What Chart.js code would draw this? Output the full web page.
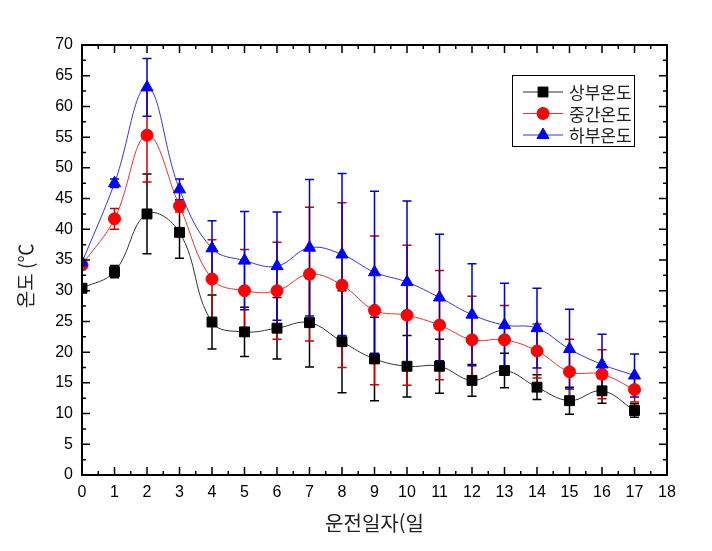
<!DOCTYPE html>
<html lang="ko">
<head>
<meta charset="utf-8">
<title>운전일자별 온도</title>
<script src="https://cdn.jsdelivr.net/npm/chart.js@4.4.1/dist/chart.umd.min.js"></script>
<style>
  html, body { margin: 0; padding: 0; background: #fff; }
  #wrap { width: 712px; height: 551px; }
</style>
</head>
<body>
<div id="wrap"><canvas id="tempChart" width="712" height="551"></canvas></div>
<script>
// 운전일자별 온도 — 평균 ± 오차

// ─── 데이터 ────────────────────────────────────────────────────────────────
const days = [0, 1, 2, 3, 4, 5, 6, 7, 8, 9, 10, 11, 12, 13, 14, 15, 16, 17];
const seriesNames = ['상부온도', '중간온도', '하부온도'];

const upperTemp  = [30.4, 33.1, 42.5, 39.5, 24.9, 23.3, 23.9, 24.8, 21.7, 18.9, 17.7, 17.7, 15.4, 17.0, 14.3, 12.1, 13.7, 10.5];
const upperErr   = [0.5, 1.0, 6.5, 4.2, 4.4, 4.0, 5.0, 7.2, 8.3, 6.8, 5.0, 4.4, 2.6, 2.8, 2.0, 2.2, 2.0, 1.1];
const middleTemp = [34.2, 41.7, 55.3, 43.8, 31.9, 30.0, 30.0, 32.7, 30.9, 26.8, 26.0, 24.4, 22.0, 22.0, 20.2, 16.8, 16.4, 13.9];
const middleErr  = [0.5, 1.7, 7.6, 1.0, 6.4, 6.7, 7.9, 10.9, 13.4, 12.1, 11.4, 8.9, 7.1, 5.6, 4.4, 5.3, 4.0, 2.0];
const lowerTemp  = [34.6, 47.5, 63.1, 46.5, 36.9, 34.9, 34.0, 37.0, 35.9, 33.0, 31.4, 28.9, 26.1, 24.4, 23.9, 20.5, 18.0, 16.2];
const lowerErr   = [0.5, 0.7, 4.7, 1.7, 4.5, 8.0, 8.8, 11.1, 13.2, 13.2, 13.2, 10.3, 8.3, 6.8, 6.5, 6.5, 4.9, 3.5];

const xMax = 18, xStep = 1;
const yMax = 70, yStep = 5;
const xTitle = '운전일자(일';
const yTitle = '온도 (℃';

// ─── 스타일 ────────────────────────────────────────────────────────────────
const series = [
  { label: seriesNames[0], values: upperTemp,  errors: upperErr,  fill: '#000000', line: '#333333', bar: '#000000', style: 'rect',     radius: 7 },
  { label: seriesNames[1], values: middleTemp, errors: middleErr, fill: '#ff0000', line: '#ee3333', bar: '#cc0000', style: 'circle',   radius: 6 },
  { label: seriesNames[2], values: lowerTemp,  errors: lowerErr,  fill: '#0000ff', line: '#3333ee', bar: '#0000cc', style: 'triangle', radius: 7 },
];

const tickFont  = { family: '"Liberation Sans", Arial, sans-serif', size: 16 };
const titleFont = { family: '"Noto Sans CJK KR", sans-serif', size: 19 };

// ─── 오차 막대 ─────────────────────────────────────────────────────────────
const errorBars = {
  id: 'errorBars',
  beforeDatasetsDraw(chart) {
    const { ctx, chartArea: a, scales: { x, y } } = chart;
    ctx.save();
    ctx.beginPath();
    ctx.rect(a.left, a.top, a.right - a.left, a.bottom - a.top);
    ctx.clip();
    ctx.lineWidth = 1.5;
    chart.data.datasets.forEach(ds => {
      ctx.strokeStyle = ds.errorColor;
      ctx.beginPath();
      ds.data.forEach((p, j) => {
        const e = ds.errors[j];
        const px = x.getPixelForValue(p.x);
        const hi = y.getPixelForValue(p.y + e);
        const lo = y.getPixelForValue(p.y - e);
        ctx.moveTo(px, hi); ctx.lineTo(px, lo);
        ctx.moveTo(px - 4.5, hi); ctx.lineTo(px + 4.5, hi);
        ctx.moveTo(px - 4.5, lo); ctx.lineTo(px + 4.5, lo);
      });
      ctx.stroke();
    });
    ctx.restore();
  }
};

// ─── 테두리 + 안쪽 눈금 ────────────────────────────────────────────────────
const frameTicks = {
  id: 'frameTicks',
  afterDatasetsDraw(chart) {
    const { ctx, chartArea: a, scales: { x, y } } = chart;
    ctx.save();
    ctx.strokeStyle = '#000';
    ctx.lineWidth = 1.5;
    ctx.beginPath();
    const marks = scale => {
      const v = scale.ticks.map(t => t.value);
      const out = v.map(val => ({ val, len: 8 }));
      for (let i = 0; i < v.length - 1; i++) out.push({ val: (v[i] + v[i + 1]) / 2, len: 4 });
      return out;
    };
    marks(x).forEach(m => {
      const px = x.getPixelForValue(m.val);
      ctx.moveTo(px, a.bottom); ctx.lineTo(px, a.bottom - m.len);
      ctx.moveTo(px, a.top);    ctx.lineTo(px, a.top + m.len);
    });
    marks(y).forEach(m => {
      const py = y.getPixelForValue(m.val);
      ctx.moveTo(a.left, py);  ctx.lineTo(a.left + m.len, py);
      ctx.moveTo(a.right, py); ctx.lineTo(a.right - m.len, py);
    });
    ctx.stroke();
    ctx.lineWidth = 2;
    ctx.strokeRect(a.left, a.top, a.right - a.left, a.bottom - a.top);
    ctx.restore();
  }
};

// ─── 범례 (상자) ───────────────────────────────────────────────────────────
const boxLegend = {
  id: 'boxLegend',
  afterDraw(chart) {
    const { ctx, chartArea: a } = chart;
    const left = a.right - 155, top = a.top + 30, w = 122, h = 71;
    ctx.save();
    ctx.fillStyle = '#fff';
    ctx.fillRect(left, top, w, h);
    ctx.strokeStyle = '#000';
    ctx.lineWidth = 1;
    ctx.strokeRect(left + 0.5, top + 0.5, w, h);
    ctx.font = '17px "Noto Sans CJK KR", sans-serif';
    ctx.textBaseline = 'middle';
    chart.data.datasets.forEach((ds, i) => {
      const cy = top + 17 + i * 21.5;
      ctx.strokeStyle = ds.borderColor;
      ctx.lineWidth = 1;
      ctx.beginPath();
      ctx.moveTo(left + 11, cy); ctx.lineTo(left + 51, cy);
      ctx.stroke();
      ctx.fillStyle = ds.pointBackgroundColor;
      ctx.strokeStyle = ds.pointBorderColor;
      Chart.helpers.drawPoint(ctx, { pointStyle: ds.pointStyle, radius: ds.pointRadius, rotation: 0, borderWidth: 1 }, left + 31, cy);
      ctx.fillStyle = '#222';
      ctx.fillText(ds.label, left + 57, cy + 1);
    });
    ctx.restore();
  }
};

// ─── 차트 ──────────────────────────────────────────────────────────────────
new Chart(document.getElementById('tempChart'), {
  type: 'line',
  data: {
    datasets: series.map((s, i) => ({
      label: s.label,
      data: days.map((d, j) => ({ x: d, y: s.values[j] })),
      errors: s.errors,
      errorColor: s.bar,
      borderColor: s.line,
      borderWidth: 1,
      backgroundColor: s.fill,
      pointBackgroundColor: s.fill,
      pointBorderColor: s.fill,
      pointBorderWidth: 1,
      pointStyle: s.style,
      pointRadius: s.radius,
      pointHoverRadius: s.radius,
      tension: 0.4,
      clip: 0,
      order: series.length - i
    }))
  },
  options: {
    responsive: false,
    animation: false,
    layout: { padding: { top: 45, right: 45, left: 0, bottom: 0 } },
    plugins: {
      legend: { display: false },
      tooltip: { enabled: false }
    },
    scales: {
      x: {
        type: 'linear',
        min: 0, max: xMax,
        ticks: { stepSize: xStep, autoSkip: false, padding: 8, color: '#000', font: tickFont },
        grid: { display: false, drawTicks: false },
        border: { display: false },
        title: { display: true, text: xTitle, color: '#222', font: { ...titleFont, size: 20 }, padding: { top: 0, bottom: 16 } },
        afterFit(scale) { scale.height = 76; }
      },
      y: {
        min: 0, max: yMax,
        ticks: { stepSize: yStep, padding: 9, color: '#000', font: tickFont },
        grid: { display: false, drawTicks: false },
        border: { display: false },
        title: { display: true, text: yTitle + '\u3000   ', color: '#222', font: titleFont, padding: { top: 14, bottom: 0 } },
        afterFit(scale) { scale.width = 82; }
      }
    }
  },
  plugins: [errorBars, frameTicks, boxLegend]
});
</script>
</body>
</html>
